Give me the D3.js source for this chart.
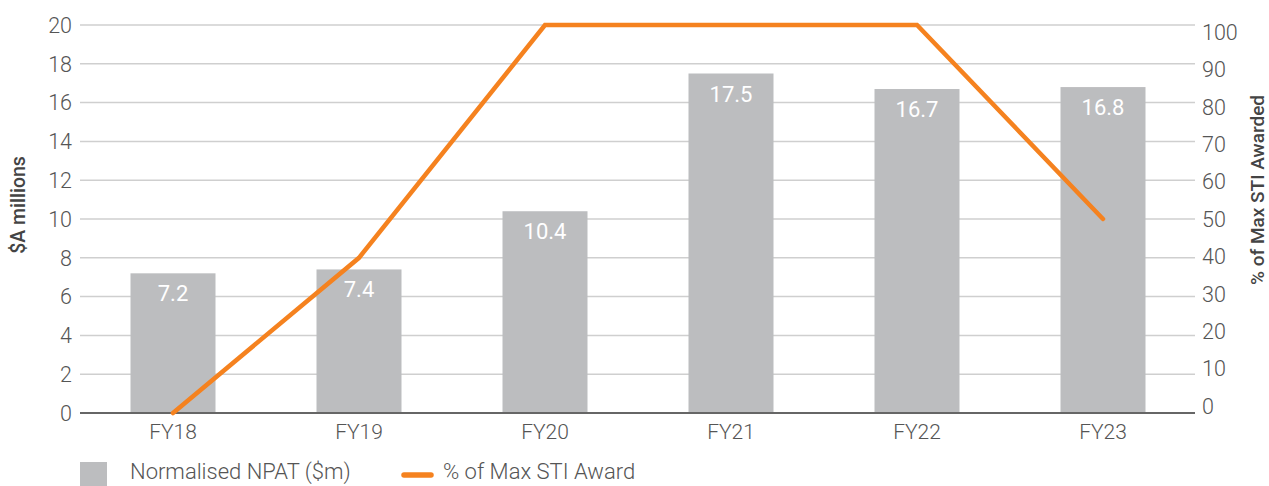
<!DOCTYPE html>
<html>
<head>
<meta charset="utf-8">
<script src="https://cdn.jsdelivr.net/npm/d3@7"></script>
<style>
  body { margin: 0; background: #fff; }
  svg text { font-family: Roboto, "Noto Sans", sans-serif; }
</style>
</head>
<body>
<div id="chart"></div>
<script>
var years = ["FY18", "FY19", "FY20", "FY21", "FY22", "FY23"]
var npat = [7.2, 7.4, 10.4, 17.5, 16.7, 16.8]
var stiPct = [0, 40, 100, 100, 100, 50]
var leftTicks = [0, 2, 4, 6, 8, 10, 12, 14, 16, 18, 20]
var rightTicks = [0, 10, 20, 30, 40, 50, 60, 70, 80, 90, 100]

var W = 1269, H = 486
var svg = d3.select("#chart").append("svg").attr("width", W).attr("height", H)

var x = d3.scaleBand().domain(years).range([80, 1196]).paddingInner(0.543).paddingOuter(0.2715)
var y = d3.scaleLinear().domain([0, 20]).range([413, 25])
var yR = d3.scaleLinear().domain([0, 100]).range([413, 25])
// right labels sit a little inside the grid in the original
var yRLab = d3.scaleLinear().domain([0, 100]).range([406, 32])

// grid
var g_grid = svg.append("g")
g_grid.selectAll("line").data(leftTicks.filter(function(d) { return d > 0 })).enter().append("line")
  .attr("x1", 80).attr("x2", 1195)
  .attr("y1", function(d) { return y(d) }).attr("y2", function(d) { return y(d) })
  .attr("stroke", "#cfcfcf").attr("stroke-width", 1.5)

// left labels
svg.append("g").selectAll("text").data(leftTicks).enter().append("text")
  .attr("x", 72).attr("y", function(d) { return y(d) })
  .attr("dy", "0.36em").attr("text-anchor", "end")
  .style("font-size", "21.5px").style("font-weight", 300).style("fill", "#555")
  .text(function(d) { return d })

// right labels
svg.append("g").selectAll("text").data(rightTicks).enter().append("text")
  .attr("x", 1202).attr("y", function(d) { return yRLab(d) })
  .attr("dy", "0.36em").attr("text-anchor", "start")
  .style("font-size", "21.5px").style("font-weight", 300).style("fill", "#555")
  .text(function(d) { return d })

// bars
var g_bars = svg.append("g")
g_bars.selectAll("rect").data(npat).enter().append("rect")
  .attr("x", function(d, i) { return x(years[i]) })
  .attr("width", x.bandwidth())
  .attr("y", function(d) { return y(d) })
  .attr("height", function(d) { return y(0) - y(d) })
  .attr("fill", "#bcbdbf")

g_bars.selectAll("text").data(npat).enter().append("text")
  .attr("x", function(d, i) { return x(years[i]) + x.bandwidth() / 2 })
  .attr("y", function(d) { return y(d) + 28 })
  .attr("text-anchor", "middle")
  .style("font-size", "22px").style("fill", "#fff")
  .text(function(d) { return d.toFixed(1) })

// baseline
svg.append("line").attr("x1", 80).attr("x2", 1195).attr("y1", y(0)).attr("y2", y(0))
  .attr("stroke", "#666").attr("stroke-width", 2)

// x labels
svg.append("g").selectAll("text").data(years).enter().append("text")
  .attr("x", function(d) { return x(d) + x.bandwidth() / 2 })
  .attr("y", 439)
  .attr("text-anchor", "middle")
  .style("font-size", "21px").style("font-weight", 300).style("fill", "#555")
  .text(function(d) { return d })

// STI line
var line = d3.line()
  .x(function(d, i) { return x(years[i]) + x.bandwidth() / 2 })
  .y(function(d) { return yR(d) })
svg.append("path").datum(stiPct).attr("d", line)
  .attr("fill", "none").attr("stroke", "#f5821f").attr("stroke-width", 4.5)
  .attr("stroke-linecap", "round").attr("stroke-linejoin", "miter")

// axis titles
svg.append("text").attr("transform", "translate(25,205) rotate(-90)")
  .attr("text-anchor", "middle")
  .style("font-size", "19.5px").style("font-weight", 500).style("fill", "#444")
  .text("$A millions")
svg.append("text").attr("transform", "translate(1264,190) rotate(-90)")
  .attr("text-anchor", "middle")
  .style("font-size", "19px").style("font-weight", 500).style("fill", "#444")
  .text("% of Max STI Awarded")

// legend
var legend = svg.append("g")
legend.append("rect").attr("x", 80).attr("y", 462).attr("width", 27).attr("height", 30).attr("fill", "#bcbdbf")
legend.append("text").attr("x", 130).attr("y", 479)
  .style("font-size", "22px").style("font-weight", 300).style("fill", "#555")
  .text("Normalised NPAT ($m)")
legend.append("line").attr("x1", 404).attr("x2", 431).attr("y1", 475).attr("y2", 475)
  .attr("stroke", "#f5821f").attr("stroke-width", 5.5).attr("stroke-linecap", "round")
legend.append("text").attr("x", 443).attr("y", 479)
  .style("font-size", "22px").style("font-weight", 300).style("fill", "#555")
  .text("% of Max STI Award")
</script>
</body>
</html>
